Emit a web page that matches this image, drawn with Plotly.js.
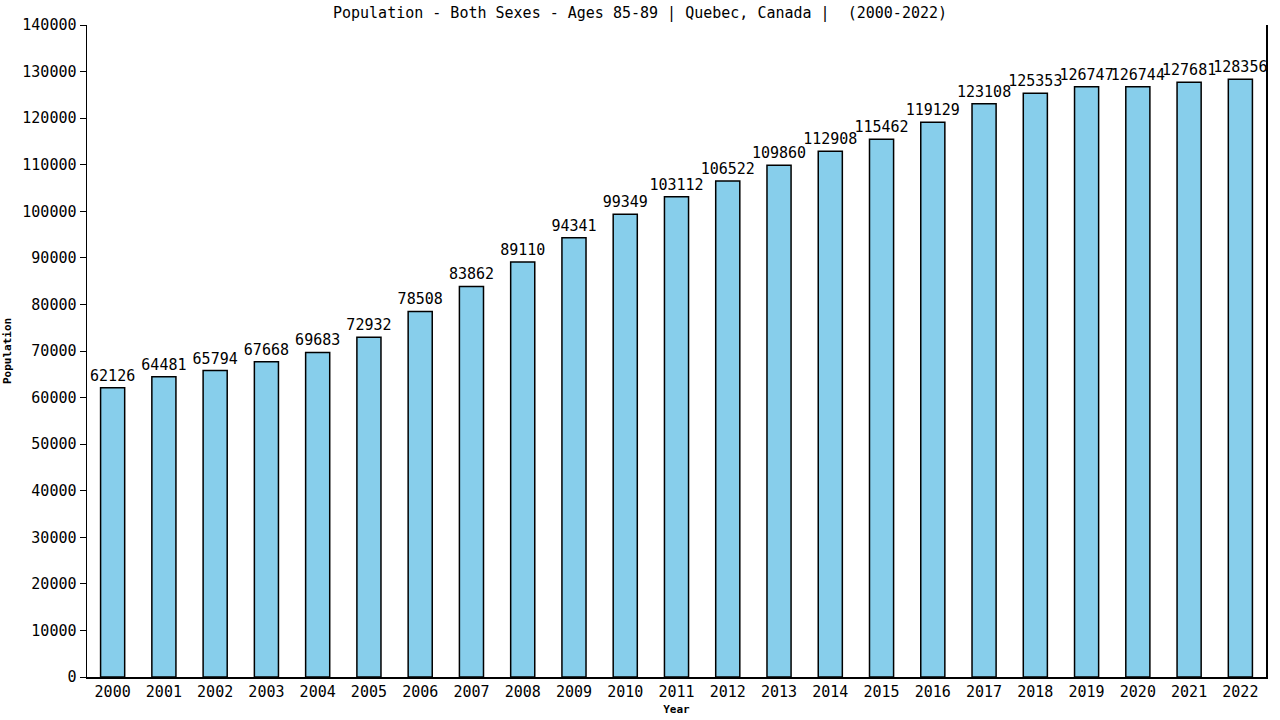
<!DOCTYPE html>
<html>
<head>
<meta charset="utf-8">
<script src="https://cdn.plot.ly/plotly-3.0.1.min.js"></script>
<style>html,body{margin:0;padding:0;background:#fff;}#chart{width:1280px;height:720px;}</style>
</head>
<body>
<div id="chart"></div>
<script>
const years = ["2000","2001","2002","2003","2004","2005","2006","2007","2008","2009","2010","2011","2012","2013","2014","2015","2016","2017","2018","2019","2020","2021","2022"];
const population = [62126,64481,65794,67668,69683,72932,78508,83862,89110,94341,99349,103112,106522,109860,112908,115462,119129,123108,125353,126747,126744,127681,128356];
const yTicks = [0,10000,20000,30000,40000,50000,60000,70000,80000,90000,100000,110000,120000,130000,140000];

const mono = "DejaVu Sans Mono, monospace";
const trace = {
  type: "bar",
  x: years,
  y: population,
  text: population.map(String),
  textposition: "outside",
  constraintext: "none",
  cliponaxis: false,
  textfont: {family: mono, size: 15, color: "#000"},
  marker: {color: "#87CEEB", line: {color: "#000", width: 1.5}},
  hoverinfo: "x+y"
};
const layout = {
  width: 1280, height: 720,
  margin: {l: 87, r: 14, t: 25, b: 43},
  paper_bgcolor: "#fff", plot_bgcolor: "#fff",
  bargap: 0.53,
  showlegend: false,
  title: {text: "Population - Both Sexes - Ages 85-89 | Quebec, Canada |  (2000-2022)", font: {family: mono, size: 15, color: "#000"}, x: 0.5, xanchor: "center", y: 0.982, yanchor: "middle"},
  xaxis: {
    type: "category",
    title: {text: "<b>Year</b>", font: {family: mono, size: 11, color: "#000"}, standoff: 6},
    tickfont: {family: mono, size: 15, color: "#000"},
    showline: true, linecolor: "#000", linewidth: 1.5,
    ticks: "", showgrid: false, zeroline: false
  },
  yaxis: {
    range: [0, 140000],
    tickvals: yTicks,
    ticktext: yTicks.map(String),
    title: {text: "<b>Population</b>", font: {family: mono, size: 11, color: "#000"}, standoff: 8},
    tickfont: {family: mono, size: 15, color: "#000"},
    showline: true, linecolor: "#000", linewidth: 1.5, mirror: true,
    ticks: "outside", ticklen: 6, tickcolor: "#000",
    showgrid: false, zeroline: false
  }
};
Plotly.newPlot("chart", [trace], layout, {staticPlot: true});
</script>
</body>
</html>
